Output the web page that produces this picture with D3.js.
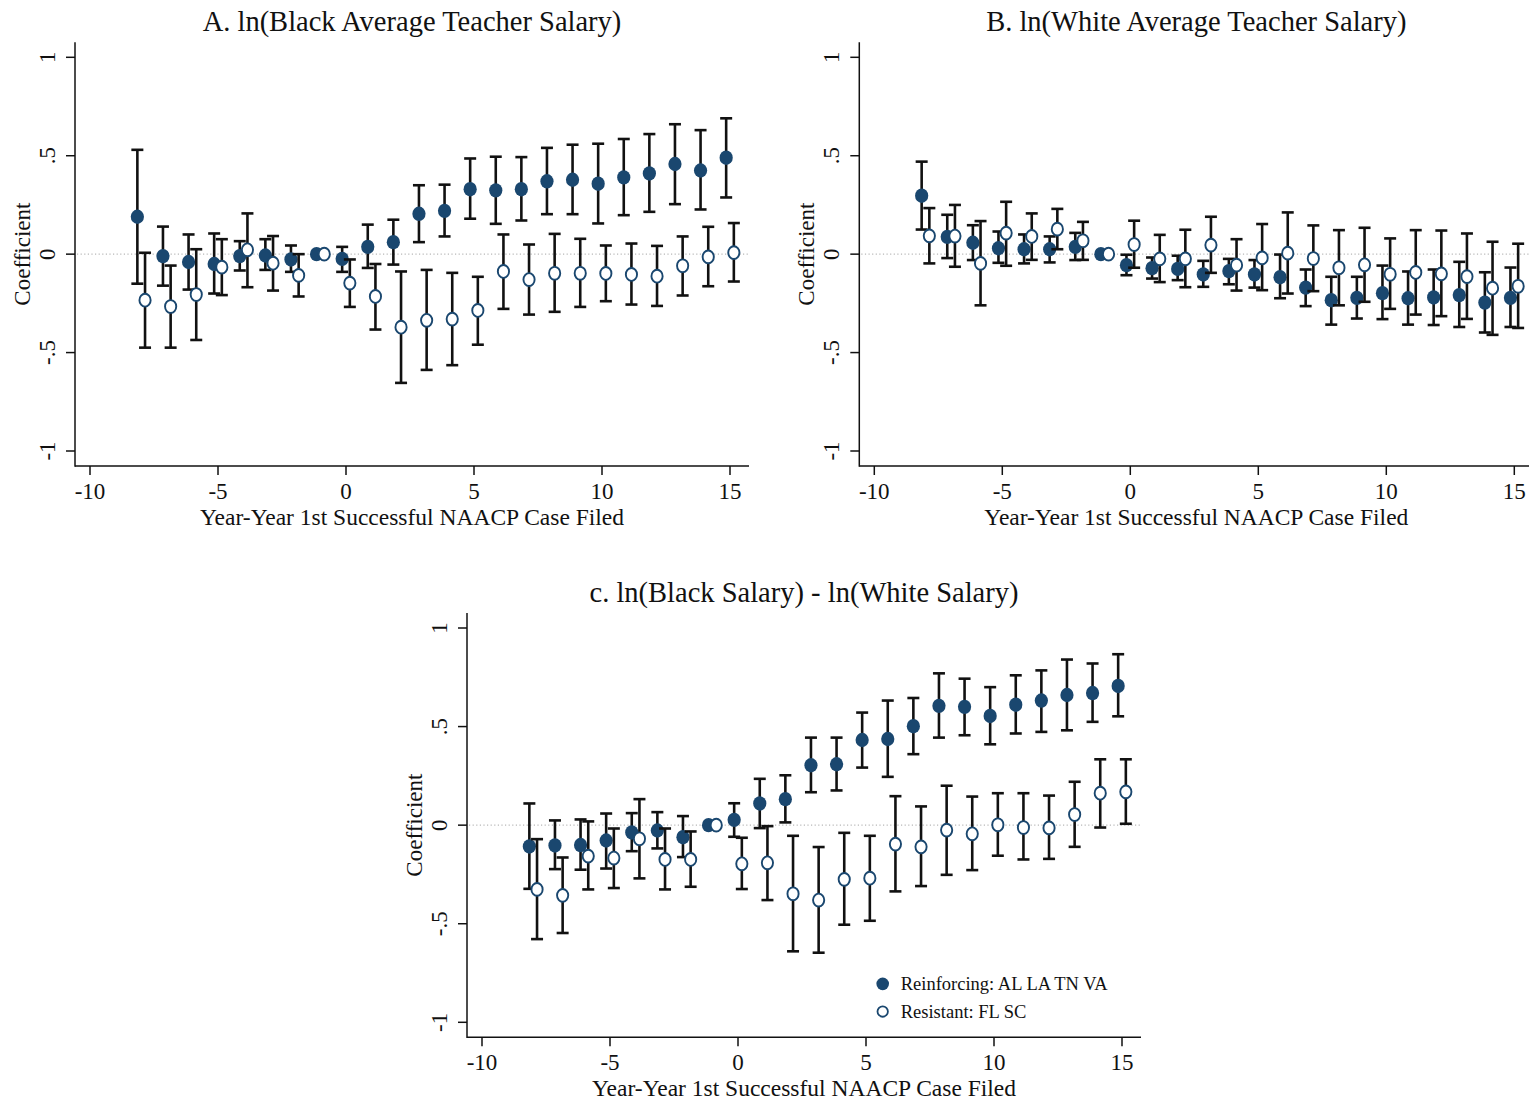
<!DOCTYPE html>
<html>
<head>
<meta charset="utf-8">
<script src="https://cdn.jsdelivr.net/npm/d3@7"></script>
<style>
  body { margin: 0; background: #fff; }
  svg text { font-family: "Liberation Serif", "DejaVu Serif", serif; fill: #111; }
</style>
</head>
<body>
<svg id="chart" width="1529" height="1103"></svg>
<script>
  // event time (years relative to 1st successful NAACP case)
  const years = [-8, -7, -6, -5, -4, -3, -2, -1, 0, 1, 2, 3, 4, 5, 6, 7, 8, 9, 10, 11, 12, 13, 14, 15];
  const xTicks = [-10, -5, 0, 5, 10, 15];
  const yTicks = [-1, -0.5, 0, 0.5, 1];
  const yTickLabels = ["-1", "-.5", "0", ".5", "1"];

  // A. ln(Black Average Teacher Salary)
  const aReinf   = [0.19, -0.01, -0.04, -0.05, -0.01, -0.007, -0.027, 0, -0.024, 0.037, 0.061, 0.205, 0.22, 0.33, 0.324, 0.33, 0.37, 0.378, 0.358, 0.39, 0.41, 0.458, 0.425, 0.49];
  const aReinfHi = [0.53, 0.14, 0.10, 0.105, 0.066, 0.076, 0.044, null, 0.037, 0.15, 0.175, 0.35, 0.353, 0.486, 0.495, 0.493, 0.54, 0.556, 0.561, 0.585, 0.61, 0.66, 0.63, 0.69];
  const aReinfLo = [-0.15, -0.16, -0.18, -0.20, -0.083, -0.08, -0.09, null, -0.09, -0.07, -0.053, 0.061, 0.09, 0.18, 0.154, 0.171, 0.203, 0.203, 0.156, 0.198, 0.215, 0.254, 0.227, 0.288];
  const aResist   = [-0.234, -0.266, -0.205, -0.066, 0.022, -0.046, -0.108, 0, -0.147, -0.215, -0.371, -0.336, -0.33, -0.286, -0.088, -0.129, -0.097, -0.097, -0.098, -0.103, -0.112, -0.059, -0.014, 0.008];
  const aResistHi = [0.007, -0.058, 0.025, 0.076, 0.207, 0.092, 0.0, null, -0.027, -0.05, -0.088, -0.08, -0.095, -0.115, 0.1, 0.049, 0.103, 0.078, 0.044, 0.054, 0.042, 0.09, 0.139, 0.158];
  const aResistLo = [-0.475, -0.475, -0.436, -0.208, -0.168, -0.185, -0.215, null, -0.268, -0.383, -0.654, -0.588, -0.564, -0.46, -0.278, -0.307, -0.293, -0.268, -0.239, -0.256, -0.263, -0.21, -0.163, -0.139];

  // B. ln(White Average Teacher Salary)
  const bReinf   = [0.297, 0.088, 0.058, 0.03, 0.025, 0.025, 0.037, 0, -0.056, -0.071, -0.075, -0.103, -0.086, -0.103, -0.117, -0.17, -0.234, -0.222, -0.198, -0.224, -0.22, -0.208, -0.246, -0.222];
  const bReinfHi = [0.47, 0.2, 0.147, 0.115, 0.1, 0.09, 0.108, null, -0.003, -0.017, -0.008, -0.034, -0.024, -0.03, -0.002, -0.078, -0.115, -0.115, -0.058, -0.088, -0.078, -0.039, -0.092, -0.068];
  const bReinfLo = [0.125, -0.02, -0.03, -0.044, -0.047, -0.042, -0.03, null, -0.107, -0.124, -0.132, -0.166, -0.153, -0.17, -0.224, -0.264, -0.358, -0.327, -0.33, -0.358, -0.36, -0.37, -0.398, -0.37];
  const bResist   = [0.093, 0.092, -0.047, 0.107, 0.09, 0.127, 0.068, 0, 0.049, -0.024, -0.024, 0.046, -0.056, -0.019, 0.005, -0.022, -0.069, -0.054, -0.102, -0.093, -0.1, -0.114, -0.173, -0.163];
  const bResistHi = [0.234, 0.25, 0.168, 0.266, 0.207, 0.23, 0.164, null, 0.17, 0.098, 0.124, 0.19, 0.076, 0.153, 0.212, 0.146, 0.122, 0.134, 0.08, 0.122, 0.12, 0.105, 0.063, 0.053];
  const bResistLo = [-0.047, -0.064, -0.26, -0.059, -0.029, 0.025, -0.029, null, -0.069, -0.142, -0.168, -0.095, -0.185, -0.183, -0.2, -0.188, -0.26, -0.242, -0.278, -0.307, -0.315, -0.329, -0.41, -0.375];

  // c. ln(Black Salary) - ln(White Salary)
  const cReinf   = [-0.108, -0.103, -0.101, -0.078, -0.037, -0.027, -0.061, 0, 0.027, 0.11, 0.132, 0.304, 0.309, 0.432, 0.437, 0.502, 0.605, 0.6, 0.554, 0.611, 0.632, 0.66, 0.67, 0.706];
  const cReinfHi = [0.11, 0.024, 0.029, 0.059, 0.061, 0.066, 0.046, null, 0.111, 0.235, 0.253, 0.444, 0.444, 0.571, 0.632, 0.645, 0.77, 0.743, 0.7, 0.76, 0.785, 0.84, 0.82, 0.867];
  const cReinfLo = [-0.323, -0.223, -0.226, -0.22, -0.132, -0.118, -0.162, null, -0.059, -0.015, 0.014, 0.167, 0.176, 0.292, 0.245, 0.36, 0.444, 0.456, 0.41, 0.465, 0.473, 0.481, 0.524, 0.552];
  const cResist   = [-0.326, -0.356, -0.157, -0.167, -0.069, -0.174, -0.174, 0, -0.196, -0.191, -0.348, -0.38, -0.275, -0.269, -0.096, -0.11, -0.025, -0.044, 0.002, -0.012, -0.014, 0.054, 0.162, 0.169];
  const cResistHi = [-0.071, -0.164, 0.019, -0.017, 0.132, -0.017, -0.032, null, -0.064, -0.005, -0.054, -0.111, -0.039, -0.054, 0.147, 0.095, 0.2, 0.145, 0.162, 0.162, 0.15, 0.22, 0.334, 0.334];
  const cResistLo = [-0.578, -0.547, -0.326, -0.319, -0.27, -0.326, -0.3125, null, -0.324, -0.38, -0.64, -0.647, -0.505, -0.485, -0.336, -0.309, -0.252, -0.228, -0.155, -0.174, -0.171, -0.11, -0.012, 0.007];

  const navy = "#1a476f";
  const svg = d3.select("#chart");

  // one panel: x0 = pixel of year -10, yTop/yBot = pixel of +1/-1
  function drawPanel(p) {
    const x = d3.scaleLinear().domain([-10, 15]).range([p.x0, p.x0 + 640]);
    const y = d3.scaleLinear().domain([-1, 1]).range([p.yBot, p.yTop]);
    const left = x(-10) - 15, right = x(15) + 19;
    const top = y(1) - 15, bottom = y(-1) + 15;
    const g = svg.append("g");

    // dotted zero line
    g.append("line")
      .attr("x1", left + 2).attr("x2", right).attr("y1", y(0)).attr("y2", y(0))
      .attr("stroke", "#b8b8b8").attr("stroke-width", 1.2).attr("stroke-dasharray", "1.2,2.4");

    // axes
    g.append("line").attr("x1", left).attr("x2", left).attr("y1", top).attr("y2", bottom + 0.75)
      .attr("stroke", "#111").attr("stroke-width", 1.5);
    g.append("line").attr("x1", left).attr("x2", right).attr("y1", bottom).attr("y2", bottom)
      .attr("stroke", "#111").attr("stroke-width", 1.5);

    g.selectAll(".xt").data(xTicks).enter().append("line")
      .attr("x1", d => x(d)).attr("x2", d => x(d)).attr("y1", bottom).attr("y2", bottom + 9)
      .attr("stroke", "#111").attr("stroke-width", 1.5);
    g.selectAll(".xl").data(xTicks).enter().append("text")
      .attr("x", d => x(d)).attr("y", bottom + 33)
      .attr("text-anchor", "middle").style("font-size", "23px")
      .text(d => d);

    g.selectAll(".yt").data(yTicks).enter().append("line")
      .attr("x1", left - 9).attr("x2", left).attr("y1", d => y(d)).attr("y2", d => y(d))
      .attr("stroke", "#111").attr("stroke-width", 1.5);
    g.selectAll(".yl").data(yTicks).enter().append("text")
      .attr("transform", d => "translate(" + (left - 20) + "," + y(d) + ") rotate(-90)")
      .attr("text-anchor", "middle").style("font-size", "23px")
      .text((d, i) => yTickLabels[i]);

    // titles
    g.append("text").attr("x", (left + right) / 2).attr("y", top - 11)
      .attr("text-anchor", "middle").style("font-size", "28.5px").text(p.title);
    g.append("text").attr("x", (left + right) / 2).attr("y", bottom + 59)
      .attr("text-anchor", "middle").style("font-size", "23.5px")
      .text("Year-Year 1st Successful NAACP Case Filed");
    g.append("text")
      .attr("transform", "translate(" + (left - 45) + "," + y(0) + ") rotate(-90)")
      .attr("text-anchor", "middle").style("font-size", "23px").text("Coefficient");

    const series = [
      { b: p.reinf, lo: p.reinfLo, hi: p.reinfHi, off: -0.15, filled: true },
      { b: p.resist, lo: p.resistLo, hi: p.resistHi, off: 0.15, filled: false }
    ];
    series.forEach(s => {
      const rows = years.map((yr, i) => ({ t: yr + s.off, b: s.b[i], lo: s.lo[i], hi: s.hi[i] }));
      const bars = rows.filter(d => d.lo !== null);
      g.selectAll(null).data(bars).enter().append("line")
        .attr("x1", d => x(d.t)).attr("x2", d => x(d.t))
        .attr("y1", d => y(d.hi)).attr("y2", d => y(d.lo))
        .attr("stroke", "#111").attr("stroke-width", 2.6);
      ["hi", "lo"].forEach(k => {
        g.selectAll(null).data(bars).enter().append("line")
          .attr("x1", d => x(d.t) - 6).attr("x2", d => x(d.t) + 6)
          .attr("y1", d => y(d[k])).attr("y2", d => y(d[k]))
          .attr("stroke", "#111").attr("stroke-width", 2.6);
      });
      g.selectAll(null).data(rows).enter().append("ellipse")
        .attr("cx", d => x(d.t)).attr("cy", d => y(d.b))
        .attr("rx", s.filled ? 6.6 : 5.6).attr("ry", s.filled ? 7.2 : 6.4)
        .attr("fill", s.filled ? navy : "#fff")
        .attr("stroke", navy).attr("stroke-width", s.filled ? 0 : 1.9);
    });

    if (p.legend) {
      const lx = x(5) + 16.7, ly = y(-0.805);
      g.append("circle").attr("cx", lx).attr("cy", ly).attr("r", 6.3).attr("fill", navy);
      g.append("circle").attr("cx", lx).attr("cy", ly + 27.7).attr("r", 5.2)
        .attr("fill", "#fff").attr("stroke", navy).attr("stroke-width", 1.8);
      g.append("text").attr("x", lx + 18).attr("y", ly + 6.5).style("font-size", "18.5px")
        .text("Reinforcing: AL LA TN VA");
      g.append("text").attr("x", lx + 18).attr("y", ly + 34.2).style("font-size", "18.5px")
        .text("Resistant: FL SC");
    }
  }

  drawPanel({ title: "A. ln(Black Average Teacher Salary)", x0: 90, yTop: 57.3, yBot: 451,
    reinf: aReinf, reinfLo: aReinfLo, reinfHi: aReinfHi, resist: aResist, resistLo: aResistLo, resistHi: aResistHi });
  drawPanel({ title: "B. ln(White Average Teacher Salary)", x0: 874.3, yTop: 57.3, yBot: 451,
    reinf: bReinf, reinfLo: bReinfLo, reinfHi: bReinfHi, resist: bResist, resistLo: bResistLo, resistHi: bResistHi });
  drawPanel({ title: "c. ln(Black Salary) - ln(White Salary)", x0: 482, yTop: 628, yBot: 1022.3, legend: true,
    reinf: cReinf, reinfLo: cReinfLo, reinfHi: cReinfHi, resist: cResist, resistLo: cResistLo, resistHi: cResistHi });
</script>
</body>
</html>
